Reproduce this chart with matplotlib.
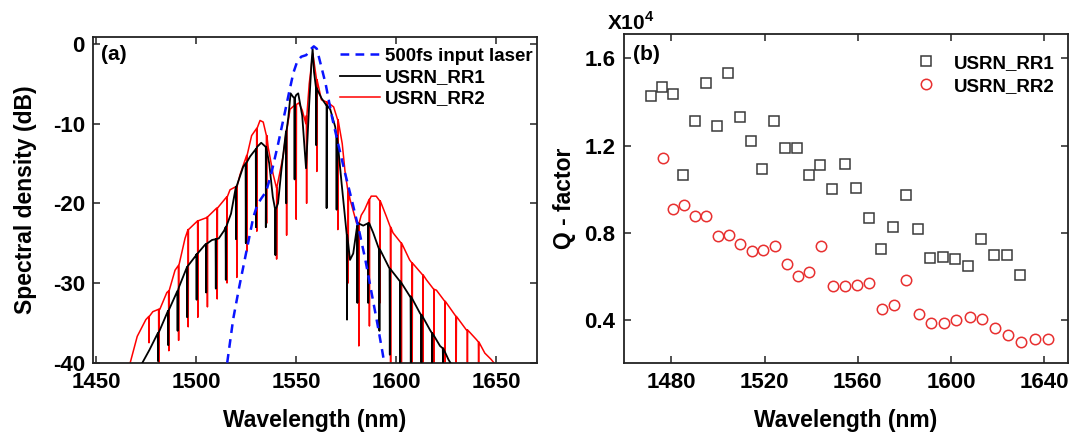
import numpy as np
import matplotlib
matplotlib.use("Agg")
import matplotlib.pyplot as plt

plt.rcParams["font.family"] = ["Liberation Sans", "DejaVu Sans"]
plt.rcParams["font.weight"] = "bold"
plt.rcParams["axes.unicode_minus"] = False
plt.rcParams["mathtext.fontset"] = "custom"
plt.rcParams["mathtext.rm"] = "Liberation Sans:bold"
plt.rcParams["mathtext.bf"] = "Liberation Sans:bold"

# ---- (a) spectra: smooth envelope + resonance dips ----
laser_wl = [1515.5, 1518.5, 1521.5, 1525.2, 1528.5, 1530.5, 1532.5, 1535.0, 1537.4, 1540.9,
            1544.4, 1546.5, 1548.6, 1550.5, 1552.5, 1555.0, 1557.0, 1558.8, 1560.3, 1562.2,
            1564.7, 1568.0, 1571.4, 1574.7, 1578.0, 1581.5, 1584.5, 1587.5, 1590.5, 1593.0, 1594.0]
laser_db = [-40, -34.5, -30.5, -25.9, -21.8, -20.2, -19.4, -18.5, -16.4, -12.6,
            -8.5, -6.0, -3.6, -2.2, -1.6, -1.4, -0.7, -0.3, -0.6, -2.5,
            -5.0, -9.3, -13.0, -16.5, -19.8, -23.5, -27.0, -31.0, -35.0, -38.5, -40]

rr1_env_wl = [1473.1, 1476.6, 1481.8, 1487.0, 1491.4, 1495.7, 1500.0, 1504.4, 1507.9, 1511.3,
              1514.0, 1517.4, 1520.0, 1523.5, 1527.0, 1530.5, 1532.5, 1534.8, 1536.5, 1538.3,
              1539.7, 1540.9, 1542.6, 1544.4, 1546.1, 1547.2, 1548.3, 1550.0, 1551.0, 1553.0,
              1554.9, 1556.5, 1557.6, 1558.2, 1558.9, 1560.0, 1562.6, 1565.2, 1567.0, 1569.5,
              1570.8, 1572.7, 1575.2, 1576.9, 1578.5, 1581.0, 1583.5, 1586.5, 1588.5, 1591.9,
              1596.9, 1601.9, 1606.9, 1611.9, 1616.9, 1621.9, 1626.1, 1629.5]
rr1_env_db = [-40, -38.4, -35.9, -33.0, -30.5, -27.9, -26.5, -25.2, -24.6, -24.4,
              -23.4, -21.3, -17.9, -15.4, -14.1, -12.9, -12.4, -12.9, -15.0, -19.2,
              -21.0, -20.0, -15.8, -12.1, -9.1, -6.2, -6.6, -6.4, -6.2, -9.0,
              -15.6, -7.5, -2.5, -0.6, -3.5, -5.5, -6.8, -7.7, -8.2, -10.4,
              -12.5, -17.5, -23.7, -27.1, -26.3, -22.5, -22.8, -22.5, -23.7, -25.8,
              -28.3, -29.8, -31.7, -33.8, -35.9, -37.9, -39.6, -41]
rr1_dip_wl = [1480.9, 1486.0, 1490.7, 1495.5, 1500.2, 1505.0, 1509.8, 1514.8, 1519.9, 1524.8,
              1529.9, 1534.8, 1539.6, 1545.0, 1549.2, 1560.0, 1565.2, 1570.2, 1575.4, 1580.6,
              1586.0, 1591.6, 1596.8, 1602.0, 1607.3, 1612.6, 1618.0, 1623.4]
rr1_dip_top = [-36.3, -33.5, -31.0, -28.0, -26.4, -25.1, -24.5, -23.0, -18.0, -15.0,
               -13.2, -12.9, -20.8, -11.0, -6.8, -5.5, -7.7, -11.5, -24.0, -22.8,
               -22.5, -25.8, -28.2, -29.8, -31.7, -34.0, -36.3, -38.2]
rr1_dip_bot = [-39.8, -37.8, -36.0, -34.3, -32.1, -31.2, -30.7, -29.6, -24.5, -25.0,
               -23.0, -23.0, -26.5, -20.0, -17.0, -12.7, -20.6, -20.8, -34.6, -32.5,
               -32.5, -36.0, -39.0, -40, -40, -40, -40, -40]

rr2_env_wl = [1467.0, 1470.5, 1474.8, 1478.3, 1481.8, 1485.3, 1489.4, 1494.4, 1496.0, 1500.2,
              1505.2, 1510.2, 1515.2, 1516.9, 1519.9, 1521.9, 1525.2, 1527.7, 1530.2, 1531.9,
              1533.5, 1536.0, 1538.5, 1540.2, 1543.5, 1546.9, 1548.7, 1551.3, 1553.0, 1554.8,
              1556.5, 1558.3, 1560.3, 1562.6, 1566.1, 1568.7, 1570.8, 1573.0, 1574.4, 1576.9,
              1580.2, 1582.5, 1584.2, 1587.5, 1590.0, 1592.5, 1595.0, 1598.4, 1602.5, 1606.7,
              1610.9, 1615.1, 1620.1, 1625.1, 1630.1, 1635.1, 1640.1, 1644.3, 1647.5, 1652.0]
rr2_env_db = [-40, -36.7, -34.6, -33.6, -33.3, -31.2, -28.4, -24.4, -23.3, -22.3,
              -21.8, -20.6, -19.2, -18.3, -17.9, -16.4, -14.0, -11.5, -10.6, -9.6,
              -9.8, -13.0, -16.4, -18.0, -14.0, -8.2, -7.8, -7.4, -8.3, -10.0,
              -5.0, -1.2, -4.5, -7.0, -7.4, -7.9, -9.5, -12.5, -16.0, -19.5,
              -22.5, -21.5, -20.8, -19.1, -19.1, -20.0, -21.6, -23.7, -25.0, -27.1,
              -28.3, -29.6, -30.9, -32.5, -34.2, -35.9, -37.1, -38.8, -39.6, -41]
rr2_dip_wl = [1476.4, 1481.3, 1486.3, 1491.2, 1496.0, 1500.8, 1505.6, 1510.5, 1515.4, 1520.3,
              1525.3, 1530.3, 1535.2, 1540.2, 1545.2, 1550.0, 1555.2, 1560.3, 1565.4, 1570.8,
              1576.0, 1581.3, 1586.6, 1591.9, 1597.2, 1602.6, 1608.0, 1613.4, 1618.9, 1624.4,
              1630.0, 1635.6, 1641.2]
rr2_dip_top = [-34.2, -33.3, -31.0, -27.8, -23.3, -22.2, -21.7, -20.6, -19.2, -17.9,
               -14.0, -10.6, -11.5, -18.0, -10.8, -7.6, -9.0, -4.5, -7.3, -9.5,
               -18.5, -22.5, -19.5, -19.7, -23.0, -25.0, -27.5, -29.0, -30.8, -32.3,
               -34.2, -35.9, -37.4]
rr2_dip_bot = [-37.5, -40, -38.5, -37.2, -35.5, -34.3, -33.0, -32.0, -30.0, -29.3,
               -26.0, -23.5, -22.5, -27.0, -24.0, -22.0, -20.0, -16.0, -19.8, -23.3,
               -30.0, -37.9, -35.4, -32.5, -40, -40, -40, -40, -40, -40,
               -40, -40, -40]

# ---- (b) Q-factor (x10^4) ----
q1_wl = [1471.3, 1476.0, 1480.6, 1485.2, 1490.0, 1494.9, 1499.6, 1504.5, 1509.3, 1514.2,
         1519.0, 1524.1, 1528.9, 1533.9, 1538.9, 1543.9, 1549.1, 1554.3, 1559.4, 1564.6,
         1569.9, 1575.2, 1580.5, 1585.8, 1591.1, 1596.4, 1601.8, 1607.4, 1612.9, 1618.5,
         1624.1, 1629.7]
q1 = [1.426, 1.467, 1.435, 1.067, 1.313, 1.487, 1.291, 1.534, 1.331, 1.222,
      1.091, 1.314, 1.187, 1.190, 1.067, 1.109, 1.001, 1.117, 1.007, 0.868,
      0.724, 0.825, 0.973, 0.819, 0.686, 0.689, 0.680, 0.649, 0.772, 0.698,
      0.698, 0.606]
q2_wl = [1476.3, 1480.6, 1485.5, 1490.3, 1495.0, 1499.9, 1504.8, 1509.6, 1514.5, 1519.3,
         1524.3, 1529.5, 1534.4, 1539.2, 1544.2, 1549.5, 1554.7, 1559.7, 1564.9, 1570.3,
         1575.5, 1580.8, 1586.1, 1591.5, 1596.8, 1602.3, 1607.9, 1613.3, 1618.9, 1624.5,
         1630.1, 1635.9, 1641.5]
q2 = [1.144, 0.911, 0.927, 0.877, 0.877, 0.787, 0.788, 0.750, 0.716, 0.720,
      0.738, 0.658, 0.600, 0.622, 0.739, 0.557, 0.557, 0.559, 0.568, 0.450,
      0.470, 0.583, 0.425, 0.386, 0.386, 0.398, 0.414, 0.406, 0.365, 0.331,
      0.301, 0.311, 0.313]


def spectrum(env_wl, env_db, dip_wl, dip_top, dip_bot, hw=0.12):
    # merge envelope with narrow dips into one trace
    pts = list(zip(env_wl, env_db))
    for w, t, b in zip(dip_wl, dip_top, dip_bot):
        pts += [(w - hw, t), (w, b), (w + hw, t)]
    pts.sort(key=lambda p: p[0])
    return np.array(pts).T


def style_axes(ax):
    for s in ax.spines.values():
        s.set_linewidth(1.3)
        s.set_color("#222222")
    ax.tick_params(direction="in", top=True, right=True, length=5, width=1.1,
                   labelsize=16, colors="#222222", labelcolor="black")
    ax.tick_params(axis="x", pad=7)
    ax.tick_params(axis="y", pad=6)


fig = plt.figure(figsize=(10.84, 4.33), dpi=100)
ax1 = fig.add_axes([0.086, 0.1624, 0.4094, 0.753])
ax2 = fig.add_axes([0.5754, 0.1624, 0.4098, 0.7584])

x2, y2 = spectrum(rr2_env_wl, rr2_env_db, rr2_dip_wl, rr2_dip_top, rr2_dip_bot)
x1, y1 = spectrum(rr1_env_wl, rr1_env_db, rr1_dip_wl, rr1_dip_top, rr1_dip_bot)
l2, = ax1.plot(x2, y2, color="#ff0000", lw=1.1, label="USRN_RR2", zorder=2)
l1, = ax1.plot(x1, y1, color="black", lw=1.3, label="USRN_RR1", zorder=3)
l0, = ax1.plot(laser_wl, laser_db, color="#0a14ff", lw=1.8, ls=(0, (3.5, 2.5)),
               label="500fs input laser", zorder=4)
ax1.set_xlim(1448.5, 1670.4)
ax1.set_ylim(-40, 0.92)
ax1.set_xticks([1450, 1500, 1550, 1600, 1650])
ax1.set_yticks([0, -10, -20, -30, -40])
style_axes(ax1)
ax1.set_xlabel("Wavelength (nm)", fontsize=16.5, fontweight="bold", labelpad=11)
ax1.set_ylabel("Spectral density (dB)", fontsize=16.5, fontweight="bold", labelpad=11)
ax1.legend(handles=[l0, l1, l2], loc="upper right", bbox_to_anchor=(1.016, 1.0),
           frameon=False, borderaxespad=0.5, borderpad=0.1, handlelength=2.1,
           handletextpad=0.3, labelspacing=0.22, prop={"size": 13.5, "weight": "bold"})
ax1.text(0.017, 0.975, "(a)", transform=ax1.transAxes, fontsize=15,
         fontweight="bold", va="top", ha="left")

ax2.plot(q1_wl, q1, "s", mfc="none", mec="#3a3a3a", ms=6.8, mew=1.1, label="USRN_RR1")
ax2.plot(q2_wl, q2, "o", mfc="none", mec="#e83030", ms=7.5, mew=1.1, label="USRN_RR2")
ax2.set_xlim(1459.6, 1650.1)
ax2.set_ylim(0.204, 1.71)
ax2.set_xticks([1480, 1520, 1560, 1600, 1640])
ax2.set_yticks([0.4, 0.8, 1.2, 1.6])
ax2.set_yticklabels(["0.4", "0.8", "1.2", "1.6"])
style_axes(ax2)
ax2.set_xlabel("Wavelength (nm)", fontsize=16.5, fontweight="bold", labelpad=11)
ax2.set_ylabel("Q - factor", fontsize=16.5, fontweight="bold", labelpad=6)
ax2.legend(loc="upper right", bbox_to_anchor=(1.016, 1.0), frameon=False,
           borderaxespad=1.0, borderpad=0.1, handlelength=1.0, handletextpad=1.0,
           labelspacing=0.3, prop={"size": 13.5, "weight": "bold"})
ax2.text(0.02, 0.967, "(b)", transform=ax2.transAxes, fontsize=15,
         fontweight="bold", va="top", ha="left")
fig.text(0.56, 0.932, r"X10$^{4}$", fontsize=15, fontweight="bold", va="baseline")

fig.savefig("out.png", dpi=100)
